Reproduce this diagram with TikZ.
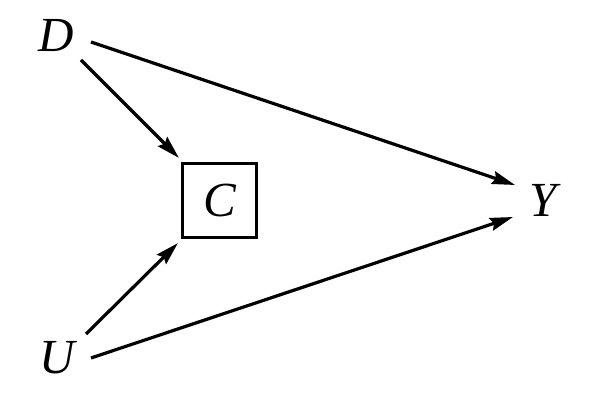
\documentclass[tikz,border=0pt]{standalone}
\usepackage{fontspec}
\setmainfont{Liberation Serif}
\usetikzlibrary{arrows.meta,positioning}

\begin{document}
\begin{tikzpicture}[
  x=1pt, y=1pt,
  var/.style={font=\fontsize{49}{52}\selectfont\itshape, inner sep=2pt},
  box/.style={var, draw, line width=3.2pt, minimum size=74pt},
  arrow/.style={-{Stealth[length=23pt, width=13pt, inset=3pt]}, line width=3.2pt},
]
\useasboundingbox (0,0) rectangle (600,409);

% ====== Variables ======
\node[var] (D) at (56, 373) {D};
\node[box] (C) at (219.5, 208.5) {C};
\node[var] (Y) at (543, 209) {Y};
\node[var] (U) at (57, 51) {U};

% ====== Causal arrows ======
\draw[arrow] ([shift={(35pt,-6pt)}]D.center) -- ([shift={(-28pt,15pt)}]Y.center);
\draw[arrow] ([shift={(25pt,-24pt)}]D.center) -- ([shift={(-2pt,4pt)}]C.north west);
\draw[arrow] ([shift={(29pt,24pt)}]U.center) -- ([shift={(-3pt,-4pt)}]C.south west);
\draw[arrow] ([shift={(34pt,0pt)}]U.center) -- ([shift={(-30pt,-17pt)}]Y.center);

\end{tikzpicture}
\end{document}
